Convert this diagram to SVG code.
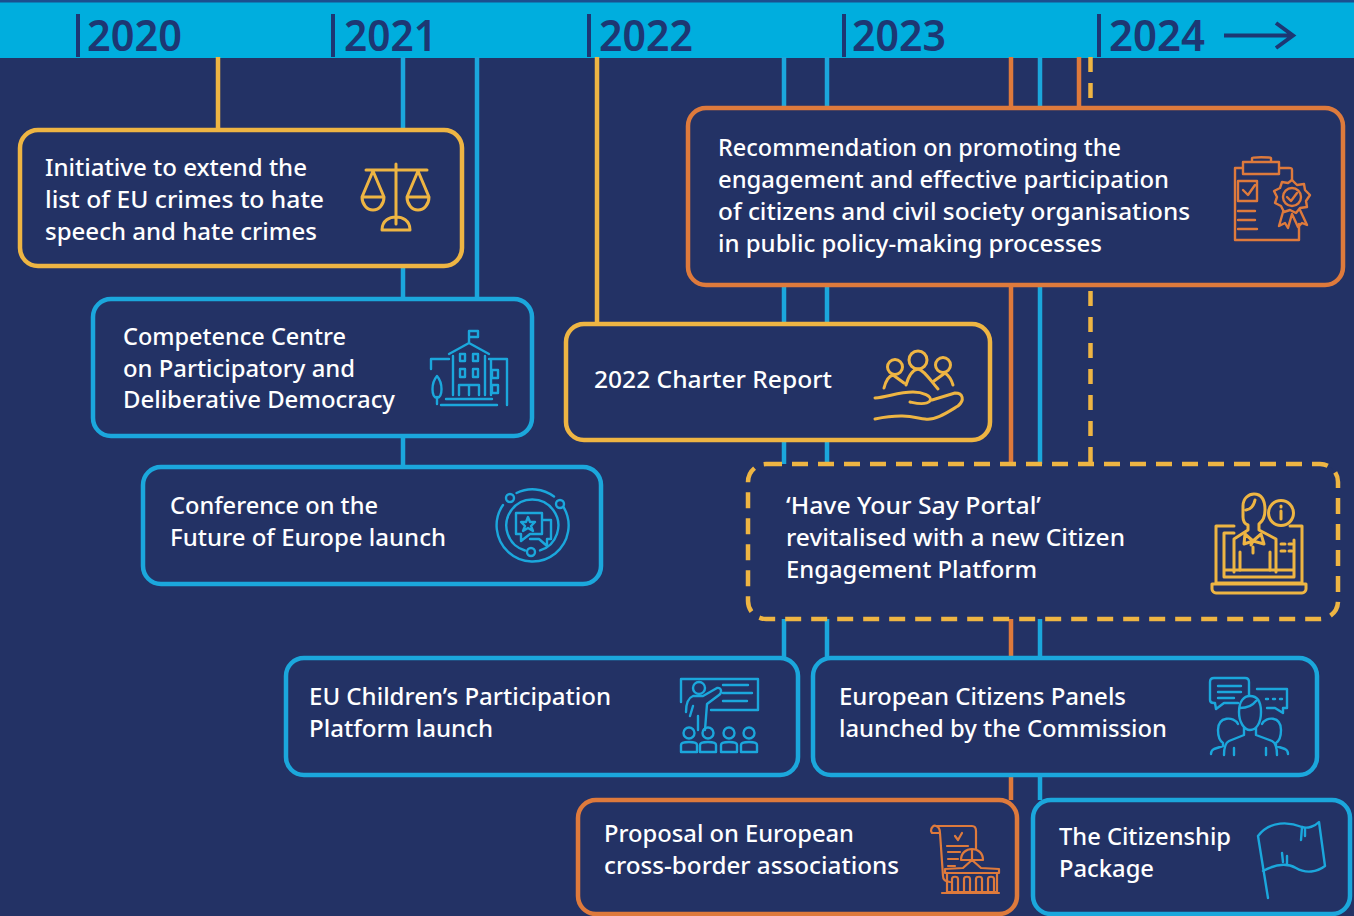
<svg xmlns="http://www.w3.org/2000/svg" width="1354" height="916" viewBox="0 0 1354 916">
<style>
text{font-family:"Noto Sans","Liberation Sans",sans-serif}
.t{fill:#fff;font-size:24px;font-weight:500}
.yr{fill:#1d3773;font-size:44px;font-weight:600}
.box{fill:#233265;stroke-width:4.5}
.ic{fill:none;stroke-width:2.4;stroke-linecap:round;stroke-linejoin:round}
.Y{stroke:#eeb543}.B{stroke:#1ba7dc}.O{stroke:#de7a3c}
.ln{fill:none;stroke-width:4.5}
.tick{stroke:#1d3773;stroke-width:4}
</style>
<rect width="1354" height="916" fill="#233265"/>
<g id="band">
<rect width="1354" height="58" fill="#00aede"/>
<rect width="1354" height="2.500" fill="#1b4f8f"/>
<path class="tick" d="M78 14V57M333 14V57M589 14V57M844 14V57M1099 14V57"/>
<text class="yr" x="87" y="51" textLength="95" lengthAdjust="spacingAndGlyphs">2020</text>
<text class="yr" x="344" y="51" textLength="93" lengthAdjust="spacingAndGlyphs">2021</text>
<text class="yr" x="599" y="51" textLength="94" lengthAdjust="spacingAndGlyphs">2022</text>
<text class="yr" x="852" y="51" textLength="94" lengthAdjust="spacingAndGlyphs">2023</text>
<text class="yr" x="1109" y="51" textLength="96" lengthAdjust="spacingAndGlyphs">2024</text>
<path d="M1224 35.500H1292M1276 23L1293 35.500L1276 48" fill="none" stroke="#1d3773" stroke-width="4"/>
</g>
<g id="connectors">
<path class="ln Y" d="M218 57V130M597 57V324"/>
<path class="ln B" d="M403 57V467M477 57V299M784 57V658M827 57V658M1040 57V800"/>
<path class="ln O" d="M1011 57V800M1079 57V108"/>
<path class="ln Y" d="M1090.500 57V464" stroke-dasharray="15 11"/>
</g>
<g id="n-crimes">
<rect class="box Y" x="20" y="130" width="442" height="136" rx="18"/>
<text class="t" x="45" y="176" textLength="262" lengthAdjust="spacingAndGlyphs">Initiative to extend the</text>
<text class="t" x="45" y="208" textLength="279" lengthAdjust="spacingAndGlyphs">list of EU crimes to hate</text>
<text class="t" x="45" y="240" textLength="272" lengthAdjust="spacingAndGlyphs">speech and hate crimes</text>
<path class="ic Y" style="stroke-width:3" d="M396 164V224M366 170H427M373 171L362 197H384ZM418 171L407 197H429ZM362 197A11 13 0 0 0 384 197M407 197A11 13 0 0 0 429 197M382 230H410C410 220 402 217 396 217C390 217 382 220 382 230Z"/>
</g>
<g id="n-competence">
<rect class="box B" x="93" y="299" width="439" height="137" rx="18"/>
<text class="t" x="123" y="345" textLength="223" lengthAdjust="spacingAndGlyphs">Competence Centre</text>
<text class="t" x="123" y="377" textLength="232" lengthAdjust="spacingAndGlyphs">on Participatory and</text>
<text class="t" x="123" y="408" textLength="272" lengthAdjust="spacingAndGlyphs">Deliberative Democracy</text>
<path class="ic B" d="M469 343V331H478V337H469M449 354L469 343L489 354M453 356V395M485 356V395M431 359H449M431 359V369M489 359H507V405M491 359V395M460 354h5v7h-5zM473 354h5v7h-5zM460 369h5v8h-5zM473 369h5v8h-5zM492 370h6v8h-6zM492 385h6v8h-6zM459 395V385H479V395M469 385V395M446 399H492M441 405H497M437 404V397M437 376C431 383 431 397 437 398C443 397 443 383 437 376Z"/>
</g>
<g id="n-conference">
<rect class="box B" x="143" y="467" width="458" height="117" rx="18"/>
<text class="t" x="170" y="514" textLength="208" lengthAdjust="spacingAndGlyphs">Conference on the</text>
<text class="t" x="170" y="546" textLength="276" lengthAdjust="spacingAndGlyphs">Future of Europe launch</text>
<g class="ic B">
<circle cx="510" cy="498" r="4"/><circle cx="560" cy="504" r="4"/><circle cx="531" cy="552" r="4"/>
<path d="M516.500 493A36 36 0 0 1 554 496.500M563.500 507A36 36 0 1 1 503 505M525 550.500A26 26 0 1 1 540 550.400"/>
<path d="M516 513H542V534H530L521 541V534H516ZM542 520H551V539H547V546L539 539H530"/>
<path d="M528 517L530 522L535 522L531 526L533 531L528 528L523 531L525 526L521 522L526 522Z"/>
</g>
</g>
<g id="n-charter">
<rect class="box Y" x="566" y="324" width="424" height="116" rx="18"/>
<text class="t" x="594" y="388" textLength="238" lengthAdjust="spacingAndGlyphs">2022 Charter Report</text>
<g class="ic Y" style="stroke-width:3">
<circle cx="895" cy="367" r="7.500"/><circle cx="918" cy="360" r="9"/><circle cx="943" cy="365" r="7.500"/>
<path d="M884 388C886 380 889 376 893 375L904 383M953 385C951 378 948 375 945 373L934 381M906 385C908 378 912 370 918 369C924 370 930 380 938 389"/>
<path d="M875 398C888 397 898 392 913 392C922 392 933 396 930 401C925 406 915 403 910 402M932 400L955 393C963 393 965 400 958 406C948 412 935 421 925 419C915 418 905 413 875 419"/>
</g>
</g>
<g id="n-recommendation">
<rect class="box O" x="688" y="108" width="655" height="177" rx="18"/>
<text class="t" x="718" y="156" textLength="403" lengthAdjust="spacingAndGlyphs">Recommendation on promoting the</text>
<text class="t" x="718" y="188" textLength="451" lengthAdjust="spacingAndGlyphs">engagement and effective participation</text>
<text class="t" x="718" y="220" textLength="472" lengthAdjust="spacingAndGlyphs">of citizens and civil society organisations</text>
<text class="t" x="718" y="252" textLength="384" lengthAdjust="spacingAndGlyphs">in public policy-making processes</text>
<g class="ic O">
<path d="M1242 168H1235V240H1299V224M1292 180V170C1292 168 1291 168 1289 168H1280M1243 162H1279V174H1243ZM1252 162V158C1252 157 1270 157 1271 158V162"/>
<path d="M1238 181H1257V201H1238ZM1243 190L1248 195L1255 185M1238 211H1255M1238 220H1255M1238 229H1257"/>
<path d="M1292 180L1297 185L1304 184L1305 190L1310 195L1306 201L1307 207L1300 208L1296 213L1290 210L1284 212L1281 206L1275 203L1277 197L1274 191L1280 188L1282 182L1288 183Z"/>
<circle cx="1292" cy="197" r="9"/>
<path d="M1287 197L1291 201L1297 193M1283 212L1279 226L1285 223L1288 228L1292 214L1298 227L1302 223L1307 225L1300 210"/>
</g>
</g>
<g id="n-portal">
<rect class="box Y" x="748" y="464" width="590" height="155" rx="18" stroke-dasharray="16 10"/>
<text class="t" x="786" y="514" textLength="255" lengthAdjust="spacingAndGlyphs">‘Have Your Say Portal’</text>
<text class="t" x="786" y="546" textLength="339" lengthAdjust="spacingAndGlyphs">revitalised with a new Citizen</text>
<text class="t" x="786" y="578" textLength="251" lengthAdjust="spacingAndGlyphs">Engagement Platform</text>
<g class="ic Y" style="stroke-width:3">
<path d="M1243 506C1243 498 1249 494 1254 494C1262 494 1265 500 1265 510C1265 517 1263 521 1259 524V530L1276 539V572M1243 506V517C1243 521 1245 524 1248 525V530L1234 539V572M1246 510C1252 509 1254 505 1255 500"/>
<circle cx="1281" cy="513" r="12.500"/><path d="M1281 511V519M1281 506V507"/>
<path d="M1245 534L1253 541L1261 534L1264 544L1253 541L1244 544ZM1253 541L1251 545"/>
<path d="M1234 526H1216V583H1302V526H1290M1234 533H1224V577H1294V540M1224 570H1294"/>
<path d="M1240 570V552M1253 547V553M1270 570V552M1281 544H1285M1289 544H1292M1281 551H1285M1289 551H1292"/>
<path d="M1212 584H1306V589C1306 591 1304 593 1302 593H1216C1214 593 1212 591 1212 589Z"/>
</g>
</g>
<g id="n-children">
<rect class="box B" x="286" y="658" width="512" height="117" rx="18"/>
<text class="t" x="309" y="705" textLength="302" lengthAdjust="spacingAndGlyphs">EU Children’s Participation</text>
<text class="t" x="309" y="737" textLength="184" lengthAdjust="spacingAndGlyphs">Platform launch</text>
<g class="ic B">
<path d="M681 702V679H758V710H711M723 685H748M723 693H752M723 701H747"/>
<circle cx="699" cy="688" r="6"/>
<path d="M686 712C686 705 688 698 693 696H703L717 688C722 687 722 693 719 695L707 704L705 730M693 706L690 716M698 716V730"/>
<circle cx="689" cy="733" r="5.500"/><circle cx="708" cy="733" r="5.500"/><circle cx="729" cy="733" r="5.500"/><circle cx="749" cy="733" r="5.500"/>
<path d="M681 752V745C681 741 697 741 697 745V752ZM700 752V745C700 741 716 741 716 745V752ZM721 752V745C721 741 737 741 737 745V752ZM741 752V745C741 741 757 741 757 745V752Z"/>
</g>
</g>
<g id="n-panels">
<rect class="box B" x="813" y="658" width="504" height="117" rx="18"/>
<text class="t" x="839" y="705" textLength="287" lengthAdjust="spacingAndGlyphs">European Citizens Panels</text>
<text class="t" x="839" y="737" textLength="328" lengthAdjust="spacingAndGlyphs">launched by the Commission</text>
<g class="ic B">
<path d="M1249 695V682C1249 679 1248 678 1245 678H1214C1212 678 1210 679 1210 682V700C1210 702 1212 703 1214 703H1215L1216 709L1224 703H1238M1218 686H1241M1218 692H1241M1218 698H1234"/>
<path d="M1257 689H1287V708H1283V713L1275 708H1267M1266 699H1268M1273 699H1275M1280 699H1282"/>
<path d="M1239 712C1239 701 1244 696 1250 696C1257 696 1261 701 1261 712C1261 722 1257 730 1250 730C1244 730 1239 722 1239 712ZM1240 708C1248 708 1253 705 1256 701M1244 728V735L1229 741C1225 743 1224 750 1224 755M1256 728V735L1272 741C1276 743 1277 750 1277 755M1234 748V755M1266 748V755"/>
<path d="M1238 724C1234 716 1218 716 1218 730C1218 737 1220 741 1223 743V746L1214 749C1212 750 1211 752 1211 754M1262 724C1266 716 1281 716 1281 730C1281 737 1279 741 1276 743V746L1285 749C1287 750 1288 752 1288 754"/>
</g>
</g>
<g id="n-proposal">
<rect class="box O" x="578" y="800" width="439" height="114" rx="18"/>
<text class="t" x="604" y="842" textLength="250" lengthAdjust="spacingAndGlyphs">Proposal on European</text>
<text class="t" x="604" y="874" textLength="295" lengthAdjust="spacingAndGlyphs">cross-border associations</text>
<g class="ic O" style="stroke-width:2.200">
<path d="M936 826H972C975 826 976 828 976 831V849M931 831C931 827 934 825 936 826C939 827 940 829 940 833M931 831L932 833H940L943 876C943 880 945 881 950 882M955 836L958 840L962 833M947 846H968M948 852H960M948 859H958M948 866H955"/>
<path d="M961 860C961 853 966 849 972 849C978 849 983 853 983 860M961 860H983M972 849V860M945 869L963 868L972 860L981 868L999 869V873H945ZM947 873V892H997V873M942 893H999"/>
<path d="M952 892V879C952 876 958 876 958 879V892M964 892V879C964 876 970 876 970 879V892M976 892V879C976 876 982 876 982 879V892M988 892V879C988 876 994 876 994 879V892"/>
</g>
</g>
<g id="n-citizenship">
<rect class="box B" x="1033" y="800" width="317" height="114" rx="18"/>
<text class="t" x="1059" y="845" textLength="172" lengthAdjust="spacingAndGlyphs">The Citizenship</text>
<text class="t" x="1059" y="877" textLength="95" lengthAdjust="spacingAndGlyphs">Package</text>
<g class="ic B">
<path d="M1268 898L1258 836C1270 820 1290 822 1302 827C1308 829 1315 826 1319 822L1325 866C1317 872 1306 874 1296 868C1285 862 1272 866 1263 871"/>
<path d="M1302 827L1301 840M1305 829L1305 836M1283 862L1282 853M1287 864V856"/>
</g>
</g>
</svg>
